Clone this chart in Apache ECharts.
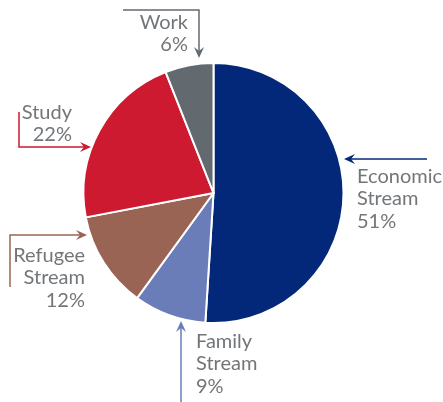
<!DOCTYPE html>
<html>
<head>
<meta charset="utf-8">
<script src="https://cdn.jsdelivr.net/npm/echarts@6/dist/echarts.min.js"></script>
<style>
  html, body { margin: 0; padding: 0; background: #fff; }
  #chart { width: 443px; height: 402px; }
</style>
</head>
<body>
<div id="chart"></div>
<script>
// Immigration streams, share of total (%), drawn clockwise from 12 o'clock
const categories = ['Economic\nStream', 'Family\nStream', 'Refugee\nStream', 'Study', 'Work'];
const shares = [51, 9, 12, 22, 6];
const sliceColors = ['#03287a', '#6a7db8', '#9a6455', '#cd1a30', '#626a70'];

// Callout placement for each category: leader path (arrow at the last point) and text anchor
const callouts = [
  { path: [[427, 159], [344, 159]], tx: 357, ty: 165, align: 'left' },
  { path: [[181, 402], [181, 321]], tx: 196, ty: 330, align: 'left' },
  { path: [[10, 287], [10, 235], [87, 235]], tx: 85, ty: 244, align: 'right' },
  { path: [[19, 112], [19, 147], [91, 147]], tx: 72, ty: 101, align: 'right' },
  { path: [[123, 10], [199, 10], [199, 58]], tx: 188, ty: 11, align: 'right' }
];

const textColor = '#727679';

function arrowHead(tip, prev, color) {
  const dx = tip[0] - prev[0], dy = tip[1] - prev[1];
  const len = Math.sqrt(dx * dx + dy * dy);
  const ux = dx / len, uy = dy / len;
  const px = -uy, py = ux;
  const L = 11, W = 5, N = 7;
  return {
    type: 'polygon',
    shape: { points: [
      tip,
      [tip[0] - ux * L + px * W, tip[1] - uy * L + py * W],
      [tip[0] - ux * N, tip[1] - uy * N],
      [tip[0] - ux * L - px * W, tip[1] - uy * L - py * W]
    ] },
    style: { fill: color }
  };
}

const graphics = [];
callouts.forEach((c, i) => {
  const color = sliceColors[i];
  const pts = c.path;
  const last = pts[pts.length - 1], before = pts[pts.length - 2];
  graphics.push({
    type: 'polyline',
    shape: { points: pts.slice(0, -1).concat([[
      last[0] - Math.sign(last[0] - before[0]) * 6,
      last[1] - Math.sign(last[1] - before[1]) * 6
    ]]) },
    style: { stroke: color, lineWidth: 1.5, fill: null }
  });
  graphics.push(arrowHead(last, before, color));
  graphics.push({
    type: 'text',
    style: {
      text: categories[i] + '\n' + shares[i] + '%',
      x: c.tx,
      y: c.ty,
      align: c.align,
      verticalAlign: 'top',
      font: '400 20px Lato',
      lineHeight: 22.5,
      fill: textColor
    }
  });
});

const chart = echarts.init(document.getElementById('chart'), null, { renderer: 'canvas' });
chart.setOption({
  animation: false,
  backgroundColor: '#ffffff',
  series: [{
    type: 'pie',
    center: [213.5, 193],
    radius: 130,
    startAngle: 90,
    clockwise: true,
    label: { show: false },
    labelLine: { show: false },
    itemStyle: { borderColor: '#ffffff', borderWidth: 2 },
    data: categories.map((name, i) => ({
      name: name,
      value: shares[i],
      itemStyle: { color: sliceColors[i] }
    }))
  }],
  graphic: graphics
});
</script>
</body>
</html>
